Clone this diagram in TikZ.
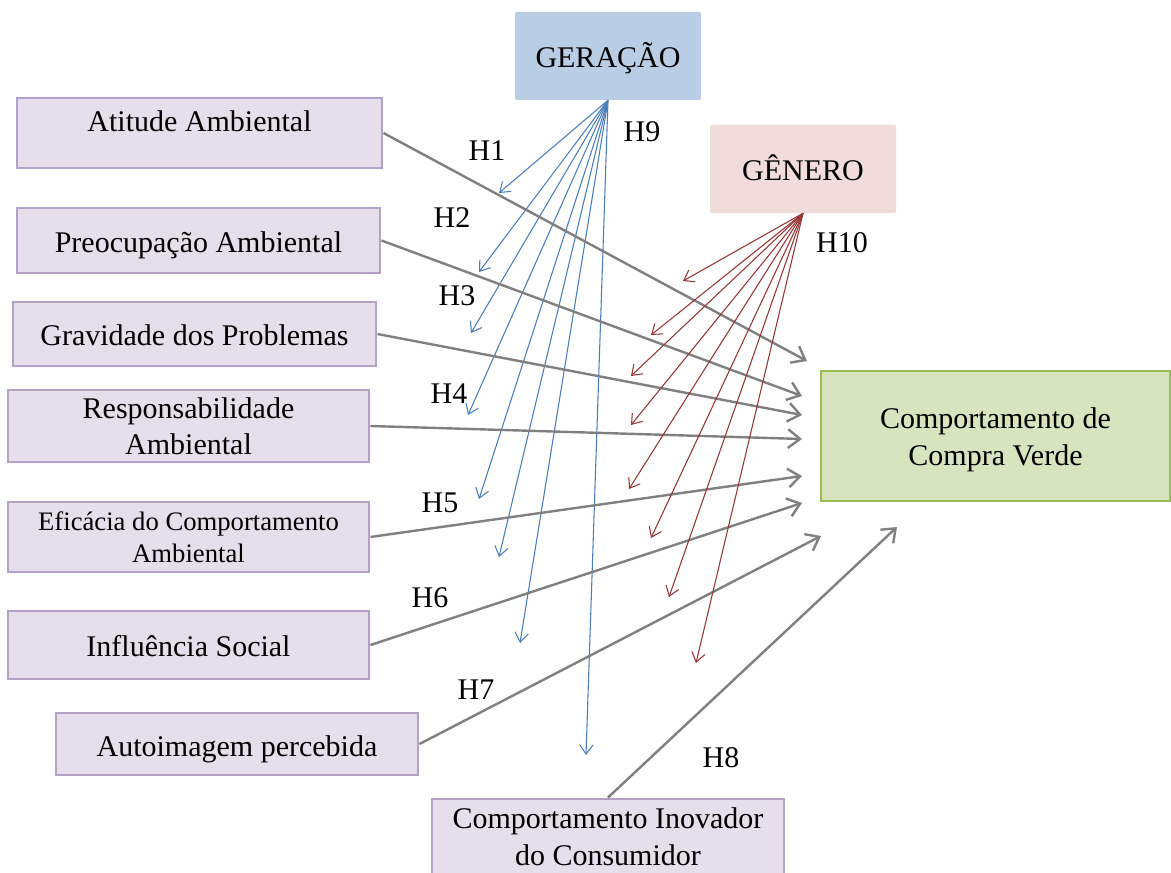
\documentclass[tikz,border=0pt]{standalone}
\usepackage{fontspec}
\setmainfont{Liberation Serif}
\usetikzlibrary{arrows.meta}

\definecolor{boxfill}{HTML}{E5DFEC}
\definecolor{boxline}{HTML}{B3A2C7}
\definecolor{genfill}{HTML}{B9CDE5}
\definecolor{gndfill}{HTML}{F2DCDB}
\definecolor{goalfill}{HTML}{D7E4BD}
\definecolor{goalline}{HTML}{9BBB59}
\definecolor{linkgray}{HTML}{808080}
\definecolor{genblue}{HTML}{4A7EBB}
\definecolor{gndred}{HTML}{953735}

\begin{document}
\begin{tikzpicture}[x=0.75pt,y=-0.75pt,
  every node/.style={font=\fontsize{22.5}{27.5}\selectfont, inner sep=0pt, align=center},
  oneline/.style={text height=17.5pt, text depth=0pt},
  twolines/.style={text height=43.5pt, text depth=0pt},
  factor/.style={draw=boxline, fill=boxfill, line width=2.2pt},
  moderator/.style={rounded corners=1pt, oneline},
  goal/.style={draw=goalline, fill=goalfill, line width=2.2pt},
  hyp/.style={},
  link/.style={draw=linkgray, line width=1.8pt, -{Straight Barb[length=9pt,width=14pt]}},
  genlink/.style={draw=genblue, line width=0.8pt, -{Straight Barb[length=7pt,width=10pt]}},
  gndlink/.style={draw=gndred, line width=0.8pt, -{Straight Barb[length=7pt,width=10pt]}}
]
\useasboundingbox (0,0) rectangle (1171,873);
\clip (0,0) rectangle (1171,873);
\fill[white] (0,0) rectangle (1171,873);

% moderators
\node[moderator, fill=genfill, minimum width=139.5pt, minimum height=66pt] (gen) at (608,56) {GERAÇÃO};
\node[moderator, fill=gndfill, minimum width=139.5pt, minimum height=66pt] (gnd) at (803,169) {GÊNERO};

% antecedent factors
\node[factor, minimum width=273.75pt, minimum height=52.5pt, text height=15pt, text depth=16.5pt] (att) at (199.5,133) {Atitude Ambiental};
\node[factor, oneline, minimum width=272.25pt, minimum height=48.75pt] (pre) at (198.5,240.5) {Preocupação Ambiental};
\node[factor, oneline, minimum width=272.25pt, minimum height=48pt] (grav) at (194.5,334) {Gravidade dos Problemas};
\node[factor, twolines, minimum width=270.75pt, minimum height=54pt] (resp) at (188.5,426) {Responsabilidade\\Ambiental};
\node[factor, minimum width=270.75pt, minimum height=52.5pt, font=\fontsize{20}{24}\selectfont, text height=37.5pt, text depth=0pt] (efic) at (188.5,537) {Eficácia do Comportamento\\Ambiental};
\node[factor, oneline, minimum width=270.75pt, minimum height=51pt] (infl) at (188.5,645) {Influência Social};
\node[factor, minimum width=271.5pt, minimum height=46.5pt, text height=18.5pt, text depth=0pt] (auto) at (237,744) {Autoimagem percebida};
\node[factor, minimum width=264pt, minimum height=57pt, text height=42pt, text depth=0pt] (inov) at (608,837) {Comportamento Inovador\\do Consumidor};

% outcome
\node[goal, twolines, minimum width=261.75pt, minimum height=97.5pt] (cgv) at (995.5,436) {Comportamento de\\Compra Verde};

% free ends of the arrows
\coordinate (g1) at (807,361);
\coordinate (g2) at (802,396);
\coordinate (g3) at (802,415);
\coordinate (g4) at (802,439);
\coordinate (g5) at (802,476);
\coordinate (g6) at (802,503);
\coordinate (g7) at (821,536);
\coordinate (g8) at (897,527);

\coordinate (b1) at (499,193);
\coordinate (b2) at (479,272);
\coordinate (b3) at (471,333);
\coordinate (b4) at (468,415);
\coordinate (b5) at (479,499);
\coordinate (b6) at (499,557);
\coordinate (b7) at (520,643);
\coordinate (b8) at (586,755);

\coordinate (r1) at (683,281);
\coordinate (r2) at (651,335);
\coordinate (r3) at (631,376);
\coordinate (r4) at (631,425);
\coordinate (r5) at (629,489);
\coordinate (r6) at (651,538);
\coordinate (r7) at (669,597);
\coordinate (r8) at (696,663);

% generation effects
\foreach \t in {b1,b2,b3,b4,b5,b6,b7,b8}
  \draw[genlink] (gen.south) -- (\t);

% direct effects
\draw[link] (att.east) -- (g1);
\draw[link] (pre.east) -- (g2);
\draw[link] (grav.east) -- (g3);
\draw[link] (resp.east) -- (g4);
\draw[link] (efic.east) -- (g5);
\draw[link] (infl.east) -- (g6);
\draw[link] (auto.east) -- (g7);
\draw[link] (inov.north) -- (g8);

% gender effects
\foreach \t in {r1,r2,r3,r4,r5,r6,r7,r8}
  \draw[gndlink] (gnd.south) -- (\t);

% hypothesis labels
\node[hyp] (h1) at (487,151) {H1};
\node[hyp] (h2) at (452,218) {H2};
\node[hyp] (h3) at (457,296) {H3};
\node[hyp] (h4) at (449,394) {H4};
\node[hyp] (h5) at (440,503) {H5};
\node[hyp] (h6) at (430,598) {H6};
\node[hyp] (h7) at (476,690) {H7};
\node[hyp] (h8) at (721,758) {H8};
\node[hyp] (h9) at (642,132) {H9};
\node[hyp] (h10) at (842,243) {H10};
\end{tikzpicture}
\end{document}
